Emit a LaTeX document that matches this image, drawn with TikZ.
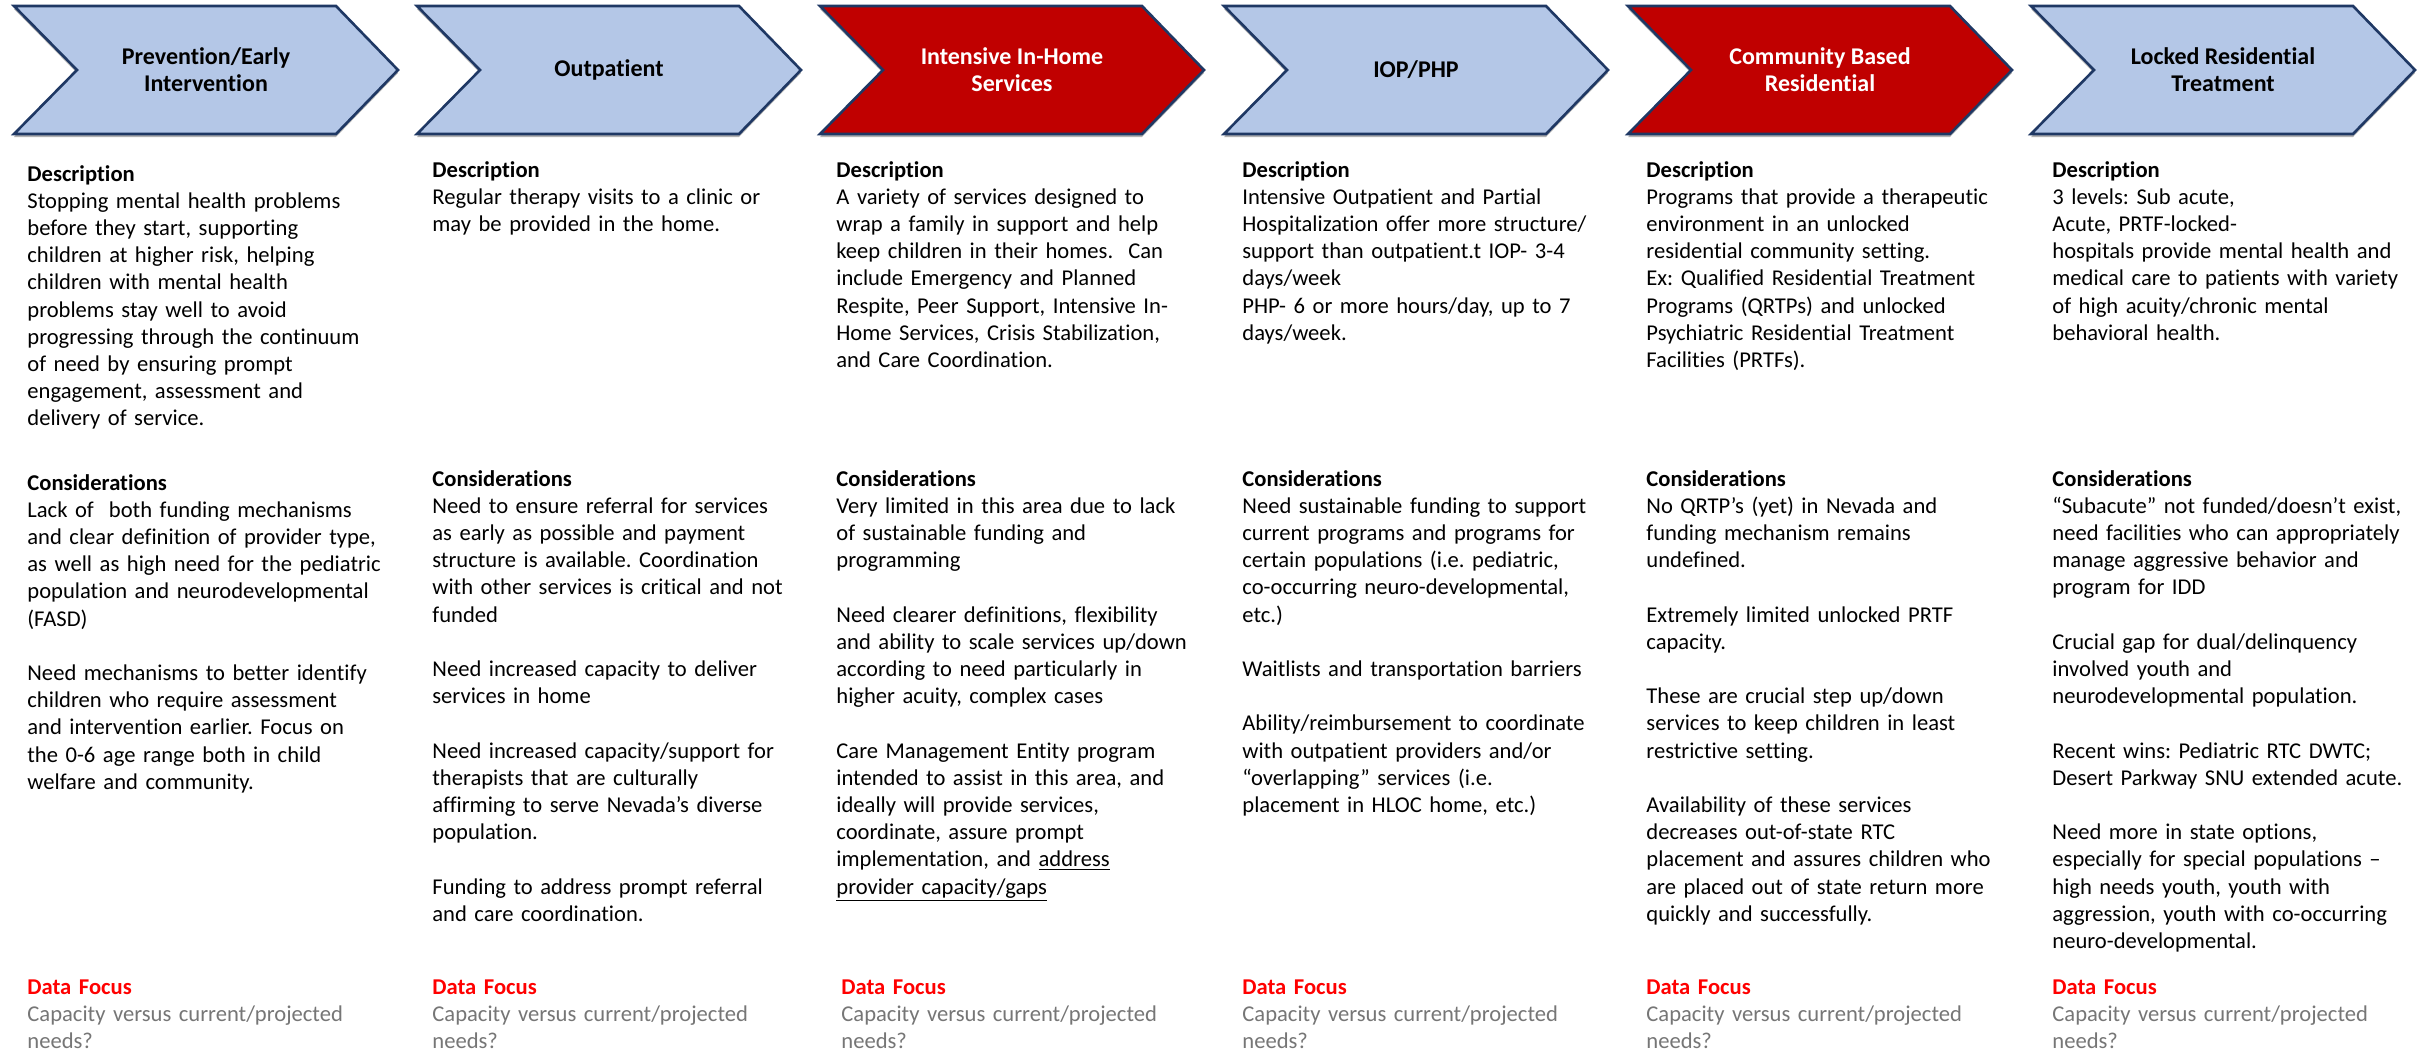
\documentclass[tikz,border=0pt]{standalone}
\usepackage{fontspec}
\setmainfont{Carlito}[Ligatures={CommonOff}]
\frenchspacing
\usetikzlibrary{shadows}
\definecolor{chevblue}{HTML}{B4C7E7}
\definecolor{chevred}{HTML}{C00000}
\definecolor{chevline}{HTML}{1F3864}
\definecolor{focusred}{HTML}{FF0000}
\definecolor{focusgray}{HTML}{767676}
\tikzset{
  chevshape/.style={draw=chevline, line width=1.3pt, line join=miter,
    drop shadow={shadow xshift=0pt, shadow yshift=-1.5pt, opacity=0.3, fill=black}},
  chevlabel/.style={font=\bfseries\fontsize{12}{13.5}\selectfont, align=center, inner sep=0pt},
  bodytext/.style={anchor=base west, inner sep=0pt, text width=205pt, align=left,
    font=\fontsize{11.3}{13.6}\selectfont},
}
\newcommand\mychev[2]{%
  \path[chevshape, fill=#2] (#1,6) -- ++(322,0) -- ++(62,64) -- ++(-62,64) -- ++(-322,0) -- ++(63,-64) -- cycle;}
\newcommand\focusblock{{\bfseries\color{focusred}Data Focus}\\{\color{focusgray}Capacity versus current/projected\\needs?}}
\begin{document}
\begin{tikzpicture}[x=0.5pt, y=-0.5pt]
\useasboundingbox (0,0) rectangle (2417,1050);
\fill[white] (0,0) rectangle (2417,1050);

% chevrons
\mychev{14}{chevblue}
\mychev{417}{chevblue}
\mychev{820}{chevred}
\mychev{1224}{chevblue}
\mychev{1628}{chevred}
\mychev{2031}{chevblue}

\node[chevlabel] (h1) at (206,70) {Prevention/Early\\Intervention};
\node[chevlabel] (h2) at (609,70) {Outpatient};
\node[chevlabel, text=white] (h3) at (1012,70) {Intensive In-Home\\Services};
\node[chevlabel] (h4) at (1416,70) {IOP/PHP};
\node[chevlabel, text=white] (h5) at (1820,70) {Community Based\\Residential};
\node[chevlabel] (h6) at (2223,70) {Locked Residential\\Treatment};

% column 1
\node[bodytext] (d1) at (27,181) {{\bfseries Description}\\
Stopping mental health problems\\
before they start, supporting\\
children at higher risk, helping\\
children with mental health\\
problems stay well to avoid\\
progressing through the continuum\\
of need by ensuring prompt\\
engagement, assessment and\\
delivery of service.};
\node[bodytext] (k1) at (27,490) {{\bfseries Considerations}\\
Lack of\ \ both funding mechanisms\\
and clear definition of provider type,\\
as well as high need for the pediatric\\
population and neurodevelopmental\\
(FASD)\\[13.6pt]
Need mechanisms to better identify\\
children who require assessment\\
and intervention earlier. Focus on\\
the 0-6 age range both in child\\
welfare and community.};
\node[bodytext] (f1) at (27,994) {\focusblock};

% column 2
\node[bodytext] (d2) at (432,177) {{\bfseries Description}\\
Regular therapy visits to a clinic or\\
may be provided in the home.};
\node[bodytext] (k2) at (432,486) {{\bfseries Considerations}\\
Need to ensure referral for services\\
as early as possible and payment\\
structure is available. Coordination\\
with other services is critical and not\\
funded\\[13.6pt]
Need increased capacity to deliver\\
services in home\\[13.6pt]
Need increased capacity/support for\\
therapists that are culturally\\
affirming to serve Nevada’s diverse\\
population.\\[13.6pt]
Funding to address prompt referral\\
and care coordination.};
\node[bodytext] (f2) at (432,994) {\focusblock};

% column 3
\node[bodytext] (d3) at (836,177) {{\bfseries Description}\\
A variety of services designed to\\
wrap a family in support and help\\
keep children in their homes.\ \ Can\\
include Emergency and Planned\\
Respite, Peer Support, Intensive In-\\
Home Services, Crisis Stabilization,\\
and Care Coordination.};
\node[bodytext] (k3) at (836,486) {{\bfseries Considerations}\\
Very limited in this area due to lack\\
of sustainable funding and\\
programming\\[13.6pt]
Need clearer definitions, flexibility\\
and ability to scale services up/down\\
according to need particularly in\\
higher acuity, complex cases\\[13.6pt]
Care Management Entity program\\
intended to assist in this area, and\\
ideally will provide services,\\
coordinate, assure prompt\\
implementation, and \underline{address}\\
\underline{provider capacity/gaps}};
\node[bodytext] (f3) at (841,994) {\focusblock};

% column 4
\node[bodytext] (d4) at (1242,177) {{\bfseries Description}\\
Intensive Outpatient and Partial\\
Hospitalization offer more structure/\\
support than outpatient.t IOP- 3-4\\
days/week\\
PHP- 6 or more hours/day, up to 7\\
days/week.};
\node[bodytext] (k4) at (1242,486) {{\bfseries Considerations}\\
Need sustainable funding to support\\
current programs and programs for\\
certain populations (i.e. pediatric,\\
co-occurring neuro-developmental,\\
etc.)\\[13.6pt]
Waitlists and transportation barriers\\[13.6pt]
Ability/reimbursement to coordinate\\
with outpatient providers and/or\\
“overlapping” services (i.e.\\
placement in HLOC home, etc.)};
\node[bodytext] (f4) at (1242,994) {\focusblock};

% column 5
\node[bodytext] (d5) at (1646,177) {{\bfseries Description}\\
Programs that provide a therapeutic\\
environment in an unlocked\\
residential community setting.\\
Ex: Qualified Residential Treatment\\
Programs (QRTPs) and unlocked\\
Psychiatric Residential Treatment\\
Facilities (PRTFs).};
\node[bodytext] (k5) at (1646,486) {{\bfseries Considerations}\\
No QRTP’s (yet) in Nevada and\\
funding mechanism remains\\
undefined.\\[13.6pt]
Extremely limited unlocked PRTF\\
capacity.\\[13.6pt]
These are crucial step up/down\\
services to keep children in least\\
restrictive setting.\\[13.6pt]
Availability of these services\\
decreases out-of-state RTC\\
placement and assures children who\\
are placed out of state return more\\
quickly and successfully.};
\node[bodytext] (f5) at (1646,994) {\focusblock};

% column 6
\node[bodytext] (d6) at (2052,177) {{\bfseries Description}\\
3 levels: Sub acute,\\
Acute, PRTF-locked-\\
hospitals provide mental health and\\
medical care to patients with variety\\
of high acuity/chronic mental\\
behavioral health.};
\node[bodytext] (k6) at (2052,486) {{\bfseries Considerations}\\
“Subacute” not funded/doesn’t exist,\\
need facilities who can appropriately\\
manage aggressive behavior and\\
program for IDD\\[13.6pt]
Crucial gap for dual/delinquency\\
involved youth and\\
neurodevelopmental population.\\[13.6pt]
Recent wins: Pediatric RTC DWTC;\\
Desert Parkway SNU extended acute.\\[13.6pt]
Need more in state options,\\
especially for special populations –\\
high needs youth, youth with\\
aggression, youth with co-occurring\\
neuro-developmental.};
\node[bodytext] (f6) at (2052,994) {\focusblock};
\end{tikzpicture}
\end{document}
